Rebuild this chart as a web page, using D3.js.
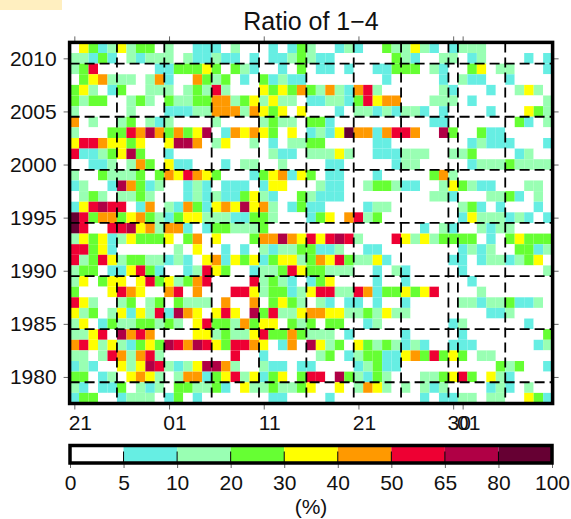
<!DOCTYPE html>
<meta charset="utf-8">
<style>
  body { margin: 0; background: #fff; }
  svg { display: block; font-family: "Liberation Sans", Arial, sans-serif; }
  .axis path { display: none; }
  .axis line { stroke: #666; stroke-width: 1; }
  .axis text { fill: #111; font-size: 21px; font-family: "Liberation Sans", Arial, sans-serif; }
</style>
<body>
<svg width="571" height="519"></svg>
<script src="https://d3js.org/d3.v7.min.js"></script>
<script>
var years = [2011,2010,2009,2008,2007,2006,2005,2004,2003,2002,2001,2000,1999,1998,1997,1996,1995,1994,1993,1992,1991,1990,1989,1988,1987,1986,1985,1984,1983,1982,1981,1980,1979,1978];

// one row per year, one value (%) per day from 21 Jun to 10 Aug
var v2011 = [0,35,25,7,15, 35,15,25,25,0, 15,0,0,7,7, 7,0,15,0,0, 0,7,0,7,25, 15,0,0,7,15, 7,0,0,25,15, 15,35,15,7,0, 7,15,15,15,0, 0,0,0,0,0, 0];
var v2010 = [15,15,7,25,7, 0,15,7,15,15, 15,0,15,7,7, 15,7,7,0,7, 0,7,7,15,25, 15,7,7,0,0, 0,0,0,0,25, 15,7,0,0,15, 15,0,7,15,0, 0,0,0,7,0, 7];
var v2009 = [15,25,57,0,0, 0,0,0,0,7, 7,25,25,25,35, 25,0,25,15,7, 0,0,7,0,25, 0,7,7,0,7, 0,0,7,7,25, 25,25,0,15,7, 0,0,25,35,0, 15,15,0,0,0, 7];
var v2008 = [0,25,35,45,15, 15,15,0,15,45, 7,0,0,45,25, 15,25,0,7,0, 25,7,15,7,7, 0,0,0,0,0, 0,0,0,7,0, 0,0,0,0,7, 0,15,7,7,0, 0,7,0,0,0, 0];
var v2007 = [25,35,15,0,7, 25,0,0,15,15, 15,0,15,25,15, 57,15,0,0,0, 35,25,35,25,45, 25,15,45,15,7, 45,57,15,0,0, 0,0,0,0,15, 7,0,0,0,7, 0,0,15,35,15, 0];
var v2006 = [25,15,25,25,0, 0,15,25,15,0, 25,15,15,25,25, 45,45,15,25,35, 15,35,15,15,0, 7,7,15,15,7, 25,57,35,45,45, 0,0,0,15,15, 15,0,7,0,0, 0,0,0,0,0, 15];
var v2005 = [15,0,0,0,0, 0,15,0,0,0, 7,7,7,15,15, 45,45,45,15,45, 35,25,35,0,35, 0,0,0,7,0, 15,15,7,15,7, 15,15,7,0,7, 0,0,0,0,7, 0,0,0,35,25, 15];
var v2004 = [45,0,15,0,0, 15,25,0,15,7, 15,0,0,0,0, 15,0,0,0,0, 15,25,15,15,0, 25,25,7,0,0, 0,0,0,0,0, 0,0,0,7,7, 0,0,0,0,0, 0,0,25,7,0, 15];
var v2003 = [15,0,0,0,25, 25,57,45,72,45, 25,45,25,35,72, 0,7,45,35,45, 35,25,0,35,0, 7,15,7,35,90, 45,45,7,45,57, 57,45,0,0,72, 25,0,0,25,7, 7,0,0,0,0, 0];
var v2002 = [35,57,57,45,35, 35,25,35,0,0, 35,72,72,45,0, 15,35,0,0,15, 0,7,0,15,15, 25,25,0,0,0, 0,0,7,7,0, 0,0,0,0,0, 0,0,7,15,7, 7,7,0,0,0, 7];
var v2001 = [57,7,7,15,25, 35,72,25,0,0, 7,0,0,0,0, 0,0,0,0,0, 0,15,7,7,0, 15,15,15,35,15, 0,0,7,7,7, 15,15,15,0,0, 15,15,25,0,0, 0,0,7,15,0, 0];
var v2000 = [0,0,7,7,15, 0,15,45,25,0, 35,7,7,0,0, 0,7,0,15,15, 0,0,15,0,0, 0,0,7,7,0, 0,0,0,0,7, 15,15,0,0,0, 0,0,7,15,15, 15,25,15,15,15, 15];
var v1999 = [15,0,0,25,15, 15,15,25,0,25, 45,35,57,45,35, 25,0,0,0,7, 25,35,45,7,35, 25,0,7,7,0, 0,0,7,0,0, 0,0,0,25,45, 15,0,0,0,0, 0,0,0,0,0, 0];
var v1998 = [7,15,0,0,7, 72,45,25,7,15, 0,0,7,15,7, 0,7,7,7,0, 7,35,35,0,0, 0,15,7,7,0, 0,15,25,25,15, 7,7,0,0,15, 35,25,15,7,7, 0,0,0,15,15, 0];
var v1997 = [0,15,25,15,0, 15,15,25,15,0, 0,0,7,15,7, 15,7,7,25,35, 15,7,0,0,25, 15,7,7,7,0, 0,0,0,0,0, 0,0,0,15,15, 7,0,0,0,15, 15,25,7,0,15, 0];
var v1996 = [7,35,57,72,57, 57,0,7,45,0, 15,7,45,25,7, 35,45,35,72,35, 45,15,0,7,25, 7,7,0,0,0, 0,7,15,15,0, 0,0,0,0,0, 0,15,25,7,0, 7,0,0,0,7, 0];
var v1995 = [90,57,25,45,45, 25,35,45,25,15, 7,25,35,35,15, 15,15,7,7,25, 25,15,0,0,0, 7,25,35,0,45, 57,15,25,0,0, 0,0,0,0,0, 0,7,35,15,15, 15,7,15,7,0, 7];
var v1994 = [90,57,0,0,57, 57,72,35,45,15, 45,45,7,0,7, 25,25,15,15,15, 25,0,0,0,0, 0,0,0,0,0, 0,0,0,0,0, 0,0,7,0,15, 7,0,0,15,7, 15,15,0,0,0, 0];
var v1993 = [15,35,25,35,7, 15,35,25,25,25, 35,0,25,45,0, 35,0,0,0,25, 45,45,72,45,35, 57,35,57,72,57, 15,0,0,0,57, 35,15,35,15,25, 25,25,25,0,7, 0,25,35,25,25, 25];
var v1992 = [57,57,25,35,7, 0,0,0,0,0, 0,15,0,35,0, 0,7,0,7,0, 15,7,15,15,25, 25,7,7,15,0, 0,7,7,0,0, 0,0,0,0,0, 0,7,15,7,15, 0,0,25,25,7, 15];
var v1991 = [57,15,25,57,35, 15,25,25,15,15, 7,15,7,0,35, 45,7,35,25,35, 7,25,35,35,15, 25,45,35,57,25, 15,15,35,7,0, 0,0,0,0,0, 7,7,0,7,15, 15,7,15,25,35, 0];
var v1990 = [15,25,25,0,7, 7,35,57,25,7, 0,0,7,15,57, 35,25,0,0,7, 15,15,25,57,35, 25,25,15,15,15, 0,0,7,0,15, 7,0,0,0,0, 0,7,0,0,0, 0,0,0,0,0, 15];
var v1989 = [15,35,0,25,35, 35,0,35,57,25, 35,15,25,45,57, 0,0,0,0,57, 15,25,15,7,0, 7,25,35,0,0, 0,0,7,0,0, 7,0,0,0,0, 0,0,7,0,0, 0,0,0,0,0, 0];
var v1988 = [25,0,0,0,35, 57,45,35,0,0, 45,57,0,45,0, 0,0,57,57,35, 15,25,25,7,15, 35,57,57,15,15, 57,45,7,25,25, 35,25,35,57,0, 0,0,0,15,0, 0,0,0,0,0, 0];
var v1987 = [57,35,15,0,0, 15,25,0,15,25, 0,25,15,15,15, 0,45,0,0,45, 0,25,35,25,15, 0,15,7,0,7, 7,0,7,0,0, 7,0,0,0,0, 0,15,15,7,15, 15,25,7,7,15, 0];
var v1986 = [35,15,25,0,15, 35,7,35,15,57, 7,72,45,35,0, 35,57,35,0,72, 25,57,15,15,35, 45,45,35,35,15, 15,25,15,35,15, 15,0,0,0,0, 0,0,0,0,7, 7,15,0,0,0, 0];
var v1985 = [15,35,0,7,25, 15,15,25,25,15, 25,15,0,35,57, 25,25,15,45,25, 35,35,0,25,15, 25,0,25,25,0, 0,7,15,0,0, 0,0,0,0,0, 7,15,0,0,0, 0,0,0,7,0, 0];
var v1984 = [15,15,35,57,0, 72,45,57,45,0, 0,0,0,35,35, 15,25,15,15,35, 57,25,25,45,25, 15,15,15,0,7, 0,0,0,0,0, 7,0,0,0,0, 0,7,0,0,0, 0,0,0,0,0, 25];
var v1983 = [45,57,35,15,35, 15,7,25,35,25, 72,57,45,72,57, 35,25,57,57,45, 35,0,7,45,0, 72,35,15,25,0, 35,25,15,25,15, 7,15,7,0,0, 7,7,7,0,0, 0,0,0,0,7, 15];
var v1982 = [15,15,0,15,57, 45,15,45,57,15, 0,0,0,0,0, 0,0,57,0,0, 7,0,0,0,0, 0,15,25,0,7, 15,25,25,7,7, 35,45,25,57,25, 35,25,0,15,15, 0,0,0,0,0, 0];
var v1981 = [7,15,7,0,0, 35,15,35,72,57, 15,7,15,35,72, 72,45,15,0,0, 15,7,7,0,7, 7,0,0,0,0, 7,15,25,7,7, 0,0,0,0,0, 0,0,0,0,0, 25,15,25,0,0, 7];
var v1980 = [25,25,0,7,15, 0,35,45,35,15, 0,15,45,45,7, 25,35,57,15,35, 7,25,35,0,25, 57,57,0,72,25, 15,7,25,15,0, 0,0,15,15,25, 35,57,25,0,35, 15,7,0,0,0, 0];
var v1979 = [15,7,0,7,7, 25,0,15,7,15, 0,25,25,15,15, 25,7,0,35,15, 15,25,15,15,25, 35,0,0,35,0, 15,45,35,15,0, 15,0,15,7,15, 0,0,0,0,7, 15,7,0,15,0, 0];
var v1978 = [7,25,25,0,0, 7,15,15,15,0, 7,25,0,7,0, 0,0,0,0,0, 0,7,7,0,0, 0,0,7,0,0, 0,0,0,0,0, 0,0,7,0,7, 7,15,15,0,15, 15,0,0,35,25, 7];

var rows = [v2011,v2010,v2009,v2008,v2007,v2006,v2005,v2004,v2003,v2002,v2001,v2000,v1999,v1998,v1997,v1996,v1995,v1994,v1993,v1992,v1991,v1990,v1989,v1988,v1987,v1986,v1985,v1984,v1983,v1982,v1981,v1980,v1979,v1978];

var yearTicks = [2010, 2005, 2000, 1995, 1990, 1985, 1980];
var dayTicks = [0.5, 10.5, 20.5, 30.5, 40.5, 41.5];
var dayLabels = ["21", "01", "11", "21", "30", "01"];
var dayBreaks = [5, 10, 15, 20, 25, 30, 35, 40, 41, 46];
var yearBreaks = [2009.5, 2004.5, 1999.5, 1994.5, 1989.5, 1984.5, 1979.5];
var classLimits = [5, 10, 20, 30, 40, 50, 65, 80];
var classLabels = ["0", "5", "10", "20", "30", "40", "50", "65", "80", "100"];
var classColors = ["#ffffff", "#66eee3", "#99ffb3", "#66ff33", "#ffff00", "#ff9900", "#ee0033", "#b00045", "#660033"];

var svg = d3.select("svg");

var x = d3.scaleLinear().domain([0, 51]).range([69.6, 552.6]);
var y = d3.scaleLinear().domain([1977.5, 2011.5]).range([403.5, 42.4]);
var color = d3.scaleThreshold().domain(classLimits).range(classColors);

// the pale patch in the top corner of the page
svg.append("rect").attr("width", 62).attr("height", 10).attr("fill", "#ffefc0");

svg.append("clipPath").attr("id", "plot").append("rect")
  .attr("x", x(0)).attr("y", y(2011.5))
  .attr("width", x(51) - x(0)).attr("height", y(1977.5) - y(2011.5));

var plot = svg.append("g").attr("clip-path", "url(#plot)");

rows.forEach(function(row, r) {
  plot.selectAll(".y" + years[r])
    .data(row)
    .enter().append("rect")
    .attr("class", "y" + years[r])
    .attr("x", function(d, i) { return x(i); })
    .attr("y", y(years[r] + 0.5))
    .attr("width", function(d, i) { return x(i + 1) - x(i); })
    .attr("height", y(years[r] - 0.5) - y(years[r] + 0.5))
    .attr("fill", function(d) { return color(d); });
});

plot.selectAll(".vdash")
  .data(dayBreaks)
  .enter().append("line")
  .attr("class", "vdash")
  .attr("x1", function(d) { return x(d); }).attr("x2", function(d) { return x(d); })
  .attr("y1", y(2011.5)).attr("y2", y(1977.5));

plot.selectAll(".hdash")
  .data(yearBreaks)
  .enter().append("line")
  .attr("class", "hdash")
  .attr("x1", x(0)).attr("x2", x(51))
  .attr("y1", function(d) { return y(d); }).attr("y2", function(d) { return y(d); });

plot.selectAll("line")
  .attr("stroke", "#000")
  .attr("stroke-width", 1.8)
  .attr("stroke-dasharray", "10 5");

svg.append("g").attr("class", "axis")
  .attr("transform", "translate(" + x(0) + ",0)")
  .call(d3.axisLeft(y).tickValues(yearTicks).tickFormat(d3.format("d")).tickSize(6).tickPadding(7));

svg.append("g").attr("class", "axis")
  .attr("transform", "translate(" + x(51) + ",0)")
  .call(d3.axisRight(y).tickValues(yearTicks).tickSize(6).tickFormat(""));

var dayAxis = svg.append("g").attr("class", "axis")
  .attr("transform", "translate(0," + y(1977.5) + ")")
  .call(d3.axisBottom(x).tickValues(dayTicks).tickSize(6).tickPadding(6)
    .tickFormat(function(d, i) { return dayLabels[i]; }));
// day labels sit a little to the right of their ticks
dayAxis.selectAll("text").attr("dx", 5.5);

svg.append("g").attr("class", "axis")
  .attr("transform", "translate(0," + y(2011.5) + ")")
  .call(d3.axisTop(x).tickValues(dayTicks).tickSize(6).tickFormat(""));

svg.append("rect")
  .attr("x", x(0)).attr("y", y(2011.5))
  .attr("width", x(51) - x(0)).attr("height", y(1977.5) - y(2011.5))
  .attr("fill", "none").attr("stroke", "#000").attr("stroke-width", 3.5);

svg.append("text")
  .attr("x", 311).attr("y", 30)
  .attr("text-anchor", "middle")
  .attr("font-size", 25).attr("fill", "#111")
  .text("Ratio of 1\u22124");

// colour bar
var barTop = 445.5, barBottom = 463;
var bar = d3.scalePoint().domain(classLabels).range([70, 552]);

svg.selectAll(".swatch")
  .data(classColors)
  .enter().append("rect")
  .attr("class", "swatch")
  .attr("x", function(d, i) { return bar(classLabels[i]); })
  .attr("y", barTop)
  .attr("width", bar.step())
  .attr("height", barBottom - barTop)
  .attr("fill", function(d) { return d; });

var barAxis = svg.append("g").attr("class", "axis")
  .attr("transform", "translate(0," + barBottom + ")")
  .call(d3.axisBottom(bar).tickSize(5).tickPadding(7));
barAxis.selectAll("line").attr("stroke", "#000");

svg.selectAll(".inner")
  .data(classLabels.slice(1, -1))
  .enter().append("line")
  .attr("class", "inner")
  .attr("x1", function(d) { return bar(d); }).attr("x2", function(d) { return bar(d); })
  .attr("y1", barTop + 6).attr("y2", barBottom)
  .attr("stroke", "#000").attr("stroke-width", 1);

svg.append("rect")
  .attr("x", 70).attr("y", barTop)
  .attr("width", 482).attr("height", barBottom - barTop)
  .attr("fill", "none").attr("stroke", "#000").attr("stroke-width", 3.5);

svg.append("text")
  .attr("x", 311).attr("y", 514)
  .attr("text-anchor", "middle")
  .attr("font-size", 21).attr("fill", "#111")
  .text("(%)");
</script>
</body>
